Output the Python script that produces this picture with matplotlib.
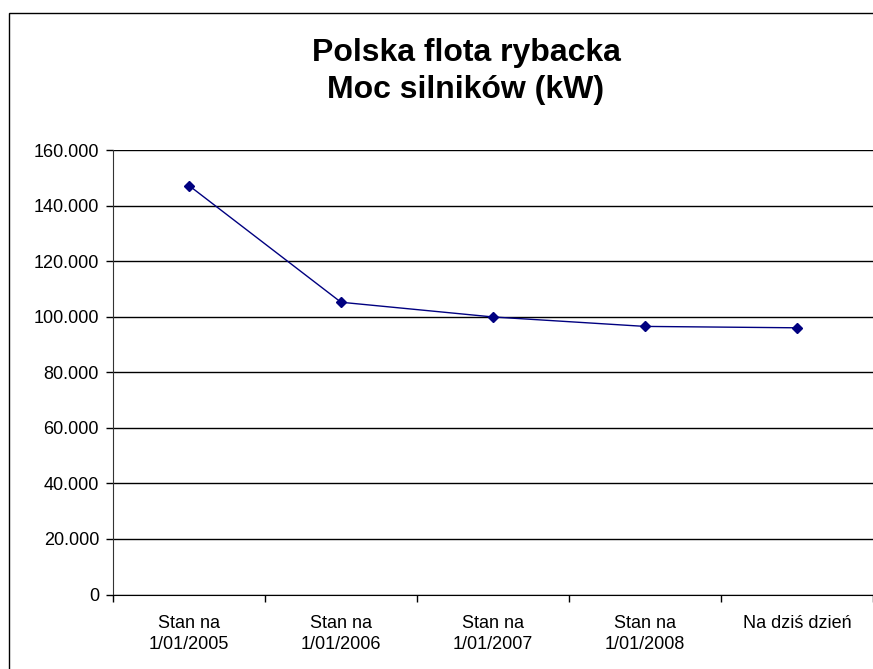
import matplotlib
matplotlib.use("Agg")
import matplotlib.pyplot as plt
from matplotlib.patches import Rectangle
from matplotlib.ticker import FuncFormatter, FixedLocator

plt.rcParams['font.family'] = ['Liberation Sans', 'DejaVu Sans']

# dane
kategorie = ["Stan na\n1/01/2005", "Stan na\n1/01/2006", "Stan na\n1/01/2007",
             "Stan na\n1/01/2008", "Na dziś dzień"]
moc_kw = [147200, 105200, 99900, 96500, 96000]
y_ticks = [0, 20000, 40000, 60000, 80000, 100000, 120000, 140000, 160000]

fig = plt.figure(figsize=(8.73, 6.69), dpi=100)
ax = fig.add_axes([113 / 873, 1 - 594.5 / 669, 1 - 113 / 873, (594.5 - 150) / 669])

# ramka wykresu (obcięta z prawej i z dołu jak w oryginale)
fig.patches.append(Rectangle((9 / 873, -0.05), 1.2, 1 - 13 / 669 + 0.05,
                             transform=fig.transFigure, fill=False,
                             edgecolor='black', linewidth=1.0, zorder=0))

x = list(range(len(kategorie)))
ax.plot(x, moc_kw, color='#000080', linewidth=1.0, marker='D',
        markersize=5, markerfacecolor='#000080', markeredgecolor='#000080',
        zorder=3, clip_on=False)

ax.set_xlim(-0.5, len(kategorie) - 0.5)
ax.set_ylim(0, 160000)
ax.set_yticks(y_ticks)
ax.yaxis.set_major_formatter(FuncFormatter(lambda v, p: f"{int(v):,}".replace(",", ".")))
ax.yaxis.grid(True, color='black', linewidth=1.0)
ax.set_axisbelow(True)

ax.set_xticks(x)
ax.set_xticklabels(kategorie, fontsize=13, linespacing=1.3)
ax.xaxis.set_minor_locator(FixedLocator([i - 0.5 for i in range(len(kategorie) + 1)]))
ax.tick_params(axis='x', which='major', length=0, pad=15)
ax.tick_params(axis='x', which='minor', length=5, width=1, color='black', direction='out')
ax.tick_params(axis='y', length=5, width=1, color='black', direction='out',
               labelsize=13, pad=5)

for s in ['top', 'right']:
    ax.spines[s].set_visible(False)
ax.spines['left'].set_color('#333333')
ax.spines['bottom'].set_color('black')

fig.text(466 / 873, 1 - 38 / 669, "Polska flota rybacka\nMoc silników (kW)",
         ha='center', va='top', fontsize=23, fontweight='bold', linespacing=1.3)

fig.savefig("out.png", dpi=100)
